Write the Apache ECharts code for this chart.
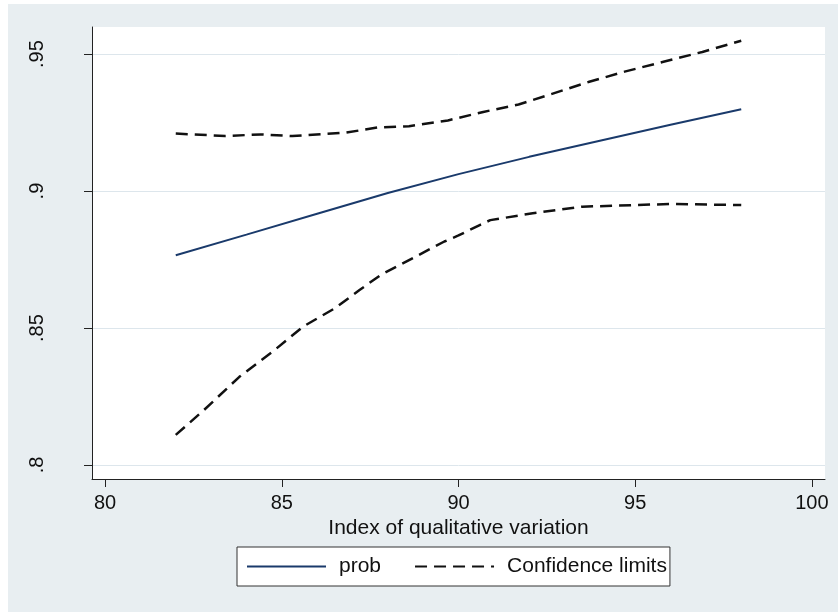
<!DOCTYPE html>
<html>
<head>
<meta charset="utf-8">
<script src="https://cdn.jsdelivr.net/npm/echarts@6/dist/echarts.min.js"></script>
<style>
  html, body { margin: 0; padding: 0; background: #fff; }
  #container_01 { width: 838px; height: 612px; }
</style>
</head>
<body>
<div id="container_01"></div>
<script>
// values
const probX = [82, 84, 86, 88, 90, 92, 94, 96, 98];
const probY = [0.8766, 0.8841, 0.8917, 0.8993, 0.9062, 0.9125, 0.9184, 0.9242, 0.9299];

const upperX = [82, 83.4, 84.4, 85.3, 86.8, 87.7, 88.6, 89.7, 90.7, 91.7, 92.6, 93.7, 94.7, 95.8, 96.9, 98];
const upperY = [0.9210, 0.9201, 0.9207, 0.9201, 0.9213, 0.9232, 0.9237, 0.9258, 0.9289, 0.9316, 0.9353, 0.9399, 0.9436, 0.9472, 0.9508, 0.9549];

const lowerX = [82, 82.8, 83.8, 84.8, 85.6, 86.5, 87.2, 87.8, 88.6, 89.6, 90.0, 90.6, 90.9, 92.1, 93.5, 95.0, 96.0, 98];
const lowerY = [0.8110, 0.8201, 0.8322, 0.8420, 0.8505, 0.8572, 0.8639, 0.8694, 0.8748, 0.8816, 0.8838, 0.8876, 0.8894, 0.8919, 0.8943, 0.8949, 0.8953, 0.8949];

const xTicks = [80, 85, 90, 95, 100];
const yTicks = [0.8, 0.85, 0.9, 0.95];
const yTickLabels = ['.8', '.85', '.9', '.95'];

function pairs(xs, ys) {
    return xs.map(function (x, i) { return [x, ys[i]]; });
}

var chartDom = document.getElementById('container_01');
var myChart = echarts.init(chartDom, null, { renderer: 'canvas' });
var font = "'Liberation Sans', Arial, sans-serif";
var option;

option = {
    backgroundColor: '#fff',
    textStyle: { fontFamily: font },
    graphic: [
        {
            type: 'rect',
            z: -10,
            shape: { x: 8, y: 4, width: 830, height: 608 },
            style: { fill: '#e8eef1' }
        }
    ],
    grid: {
        left: 92,
        right: 13,
        top: 27,
        bottom: 133,
        show: true,
        backgroundColor: '#fff',
        borderWidth: 0
    },
    legend: {
        left: 237,
        top: 547,
        padding: [9, 3, 9, 9],
        itemGap: 33,
        itemWidth: 79,
        itemHeight: 20,
        backgroundColor: '#fff',
        borderColor: '#333',
        borderWidth: 1,
        borderRadius: 0,
        // hide the symbol drawn in the middle of the legend line
        itemStyle: { opacity: 0, borderWidth: 0 },
        textStyle: { fontSize: 21, color: '#111', fontFamily: font, padding: [0, 0, 0, 8] },
        data: ['prob', 'Confidence limits']
    },
    xAxis: {
        type: 'value',
        min: 79.63,
        max: 100.37,
        name: 'Index of qualitative variation',
        nameLocation: 'middle',
        nameGap: 25,
        nameTextStyle: { fontSize: 21, color: '#111', fontFamily: font },
        axisLine: { show: true, lineStyle: { color: '#222', width: 1 } },
        axisTick: { show: true, length: 8, customValues: xTicks, lineStyle: { color: '#222' } },
        axisLabel: { customValues: xTicks, fontSize: 20, color: '#111', margin: 14, fontFamily: font },
        splitLine: { show: false }
    },
    yAxis: {
        type: 'value',
        min: 0.7949,
        max: 0.9599,
        axisLine: { show: true, lineStyle: { color: '#222', width: 1 } },
        axisTick: { show: true, length: 8, customValues: yTicks, lineStyle: { color: '#222' } },
        axisLabel: {
            customValues: yTicks,
            rotate: 90,
            fontSize: 20,
            color: '#111',
            margin: 45,
            fontFamily: font,
            formatter: function (value) {
                var i = yTicks.findIndex(function (t) { return Math.abs(t - value) < 1e-6; });
                return i >= 0 ? yTickLabels[i] : '';
            }
        },
        splitLine: { show: true, customValues: yTicks, lineStyle: { color: '#dde6ec', width: 1 } }
    },
    series: [
        {
            name: 'prob',
            type: 'line',
            symbol: 'none',
            color: '#1a3a6b',
            lineStyle: { color: '#1a3a6b', width: 2 },
            data: pairs(probX, probY)
        },
        {
            name: 'Confidence limits',
            type: 'line',
            symbol: 'none',
            color: '#111',
            lineStyle: { color: '#111', width: 2.5, type: [12, 7] },
            data: pairs(upperX, upperY)
        },
        {
            name: 'Confidence limits',
            type: 'line',
            symbol: 'none',
            color: '#111',
            lineStyle: { color: '#111', width: 2.5, type: [12, 7] },
            data: pairs(lowerX, lowerY)
        }
    ]
};

option && myChart.setOption(option);
window.addEventListener('resize', function () {
    myChart.resize();
});
</script>
</body>
</html>
